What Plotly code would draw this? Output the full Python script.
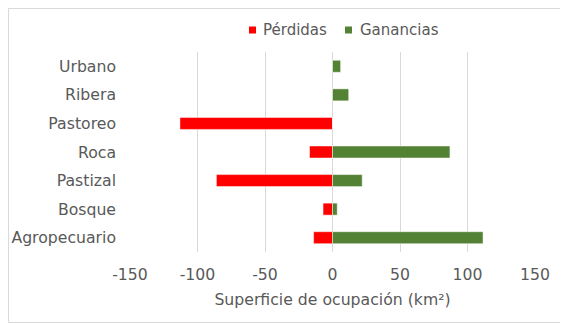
import plotly.graph_objects as go

categorias = ["Urbano", "Ribera", "Pastoreo", "Roca", "Pastizal", "Bosque", "Agropecuario"]
perdidas = [0, 0, -113, -17, -86, -7, -14]
ganancias = [6, 12, 0, 87, 22, 3.5, 111.5]
ticks = [-150, -100, -50, 0, 50, 100, 150]
series = ["Pérdidas", "Ganancias"]
colores = ["#FF0000", "#548235"]

# page has an 8px body margin, so the figure is 8px smaller
W, H = 560, 315
L, R, T, B = 122, 33, 44, 71
pw = W - L - R
ph = H - T - B
FS = 15.7

def px(x):
    return (x - L) / pw

def py(y):
    return 1 - (y - T) / ph

fig = go.Figure()
for nombre, vals, col in zip(series, [perdidas, ganancias], colores):
    fig.add_trace(go.Bar(y=categorias, x=vals, orientation="h", name=nombre,
                         marker=dict(color=col, line=dict(color="rgba(255,255,255,0.6)", width=0.8)),
                         width=0.42, showlegend=False))

# outer chart border
fig.add_shape(type="rect", xref="paper", yref="paper",
              x0=px(0.5), x1=px(W - 0.5), y0=py(H - 0.5), y1=py(0.5),
              line=dict(color="#D9D9D9", width=1), fillcolor="rgba(0,0,0,0)", layer="below")

# legend (manual, Excel-style)
leg_y = 22
for (sx, tx), nombre, col in zip([(241, 253), (337, 350)], series, colores):
    fig.add_shape(type="rect", xref="paper", yref="paper",
                  x0=px(sx), x1=px(sx + 7), y0=py(leg_y + 3.5), y1=py(leg_y - 3.5),
                  line=dict(width=0), fillcolor=col)
    fig.add_annotation(xref="paper", yref="paper", x=px(tx), y=py(leg_y),
                       xanchor="left", yanchor="middle", text=nombre, showarrow=False,
                       font=dict(size=15, color="#595959"))

fig.update_layout(
    width=W, height=H,
    margin=dict(l=L, r=R, t=T, b=B),
    barmode="relative",
    paper_bgcolor="white", plot_bgcolor="white",
    font=dict(family="DejaVu Sans", size=FS, color="#595959"),
    showlegend=False,
    xaxis=dict(range=[-150, 150], tickvals=ticks, ticktext=[str(t) for t in ticks],
               showgrid=True, gridcolor="#D9D9D9", gridwidth=1, zeroline=True,
               zerolinecolor="#D9D9D9", zerolinewidth=1, showline=False, ticks="",
               ticklabelstandoff=11, automargin=False,
               title=dict(text="Superficie de ocupación (km²)", standoff=11,
                          font=dict(size=FS, color="#595959"))),
    yaxis=dict(autorange="reversed", showgrid=False, ticks="", showline=False,
               ticklabelstandoff=13, automargin=False),
)

fig.write_html("out.html")
